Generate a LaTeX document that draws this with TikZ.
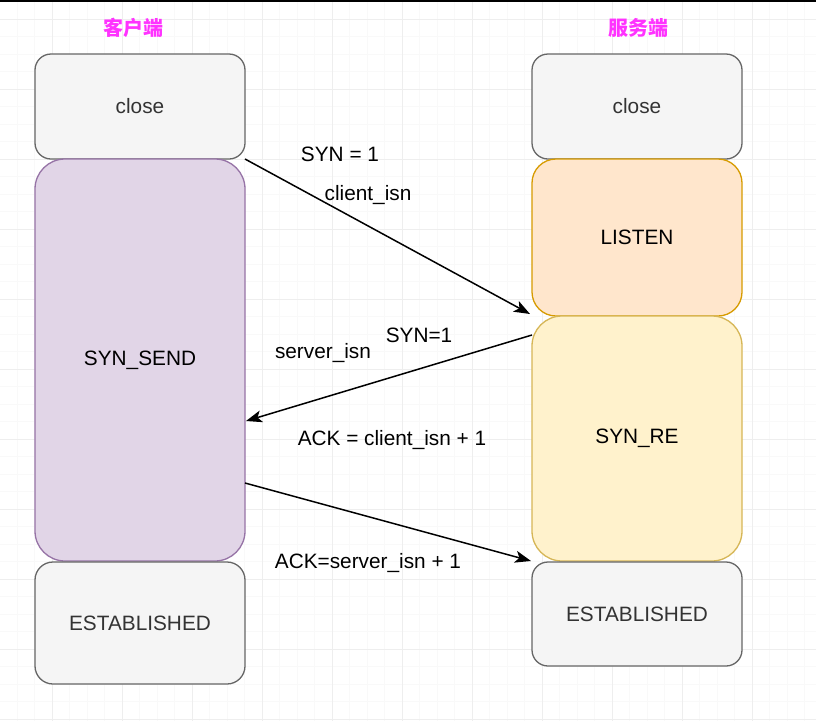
\documentclass[tikz,border=0pt]{standalone}
\usepackage{fontspec}
\setmainfont{Liberation Sans}
\newfontfamily\cjk{Noto Sans CJK SC}
\usetikzlibrary{arrows.meta}
\definecolor{closefill}{HTML}{F5F5F5}
\definecolor{closeline}{HTML}{666666}
\definecolor{closetext}{HTML}{333333}
\definecolor{sendfill}{HTML}{E1D5E7}
\definecolor{sendline}{HTML}{9673A6}
\definecolor{listenfill}{HTML}{FFE6CC}
\definecolor{listenline}{HTML}{D79B00}
\definecolor{recvfill}{HTML}{FFF2CC}
\definecolor{recvline}{HTML}{D6B656}
\definecolor{titlecol}{HTML}{FF33FF}
\begin{document}
\begin{tikzpicture}[x=1pt, y=-1pt, line width=1.3pt,
    every node/.style={font=\fontsize{20.8pt}{24pt}\selectfont, inner sep=0pt, outer sep=0pt},
    state/.style={draw, anchor=north west, minimum width=210pt, text=black},
    grey/.style={state, fill=closefill, draw=closeline, text=closetext, rounded corners=16pt},
    msg/.style={-{Stealth[length=16pt, width=12pt, inset=4pt]}, line width=1.5pt},
    title/.style={text=titlecol, font=\cjk\bfseries\fontsize{20pt}{24pt}\selectfont}]
				\useasboundingbox (0,0) rectangle (816,721);
				\fill[white] (0,0) rectangle (816,721);
				
				% 背景网格
				\foreach \x in {-0.5,17,...,816} \draw[gray!5, line width=1pt] (\x,0) -- (\x,721);
				\foreach \y in {1.5,19,...,721} \draw[gray!5, line width=1pt] (0,\y) -- (816,\y);
				\foreach \x in {52,122,...,816} \draw[gray!13, line width=1pt] (\x,0) -- (\x,721);
				\foreach \y in {19,89,...,721} \draw[gray!13, line width=1pt] (0,\y) -- (816,\y);
				\draw[black, line width=1.5pt] (0,0.75) -- (816,0.75);
				
				% 标题
				\node[title] (cli) at (133,28) {客户端};
				\node[title] (srv) at (638,28) {服务端};
				
				% 客户端状态
				\node[grey, minimum height=105pt] (lclose) at (35,54) {close};
				\node[state, fill=sendfill, draw=sendline, rounded corners=30pt, minimum height=402pt] (synsend) at (35,159) {SYN\_SEND};
				\node[grey, minimum height=122pt, rounded corners=18pt] (lest) at (35,562) {ESTABLISHED};
				
				% 服务端状态
				\node[grey, minimum height=105pt] (rclose) at (532,54) {close};
				\node[state, fill=listenfill, draw=listenline, rounded corners=24pt, minimum height=157pt] (listen) at (532,159) {LISTEN};
				\node[state, fill=recvfill, draw=recvline, rounded corners=30pt, minimum height=245pt] (synre) at (532,316) {SYN\_RE};
				\node[grey, minimum height=104pt] (rest) at (532,562) {ESTABLISHED};
				
				% 三次握手
				\draw[msg] (lclose.south east) -- ([shift={(-2pt,2pt)}]listen.south west);
				\draw[msg] ([yshift=-19pt]synre.north west) -- ([shift={(1pt,-61pt)}]synsend.east);
				\draw[msg] ([yshift=-123pt]synsend.east) -- ([xshift=-1pt]synre.south west);
				
				% 报文标注
				\node (syn1) at (340,154) {SYN = 1};
				\node (cisn) at (368,195) {client\_isn};
				\node (syn2) at (419,335) {SYN=1};
				\node (sisn) at (323,353) {server\_isn};
				\node (ack1) at (392,440) {ACK = client\_isn + 1};
				\node (ack2) at (368,563) {ACK=server\_isn + 1};
\end{tikzpicture}
\end{document}
